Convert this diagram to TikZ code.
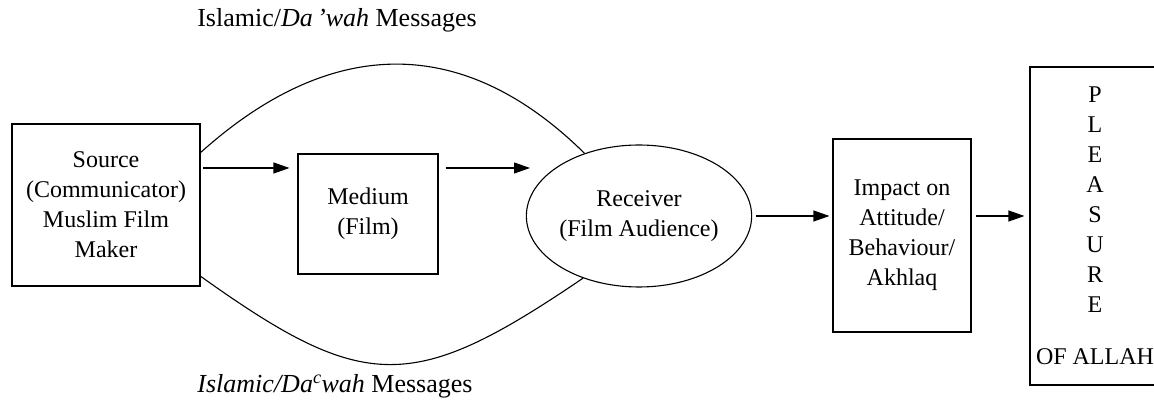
\documentclass[tikz,border=0pt]{standalone}
\usepackage{fontspec}
\setmainfont{Liberation Serif}
\usetikzlibrary{arrows.meta,shapes.geometric}

\begin{document}
\begin{tikzpicture}[x=1pt,y=1pt,line width=1.1pt,
  every node/.style={font=\fontsize{24pt}{30pt}\selectfont,inner sep=0pt,align=center},
  box/.style={draw,rectangle},
  msg/.style={anchor=base,font=\fontsize{26pt}{30pt}\selectfont},
  arr/.style={-{Triangle[length=16pt,width=11pt]}}]
  \useasboundingbox (0,0) rectangle (1154,404);
  \node[box,minimum width=188pt,minimum height=162pt] (src) at (106,199) {Source\\(Communicator)\\Muslim Film\\Maker};
  \node[box,minimum width=140pt,minimum height=120pt] (med) at (368,190) {Medium\\(Film)};
  \node[draw,ellipse,minimum width=204pt,minimum height=142pt] (rcv) at (639,188) {Receiver\\(Film Audience)};
  \node[box,minimum width=138pt,minimum height=193pt] (imp) at (902,168.5) {Impact on\\Attitude/\\Behaviour/\\Akhlaq};
  \node[box,minimum width=130pt,minimum height=318pt] (plz) at (1095,178) {P\\L\\E\\A\\S\\U\\R\\E\\[22pt]OF ALLAH};
  % arrows along the chain
  \coordinate (a1) at (203,236);
  \coordinate (a2) at (530,236);
  \draw[arr,shorten >=8pt] (a1) -- (a1 -| med.west);
  \draw[arr,shorten <=7pt] (med.east |- a1) -- (a2);
  \draw[arr,shorten <=4pt,shorten >=3pt] (rcv.east) -- (rcv.east -| imp.west);
  \draw[arr,shorten <=4pt,shorten >=5pt] (imp.east |- rcv.east) -- (plz.west |- rcv.east);
  % message arcs
  \draw (src.29) .. controls (332,369.5) and (464,369.5) .. (rcv.131);
  \draw (src.-37) .. controls (365,10.3) and (413,10.3) .. (rcv.228);
  \node[msg] (msgtop) at (337,377) {Islamic/\textit{Da\,’wah} Messages};
  \node[msg] (msgbot) at (335,11) {\textit{Islamic/Da\textsuperscript{c}wah} Messages};
\end{tikzpicture}
\end{document}
